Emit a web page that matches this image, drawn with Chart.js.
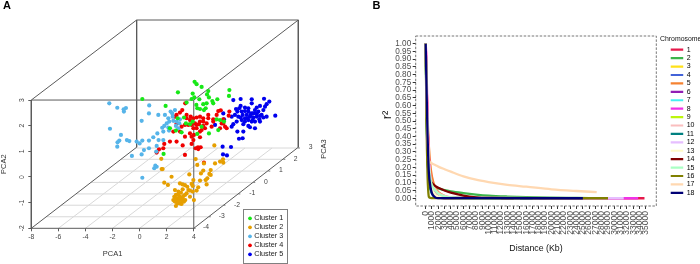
<!DOCTYPE html>
<html><head><meta charset="utf-8">
<style>
html,body{margin:0;padding:0;background:#fff;width:700px;height:264px;overflow:hidden}
canvas{position:absolute;top:0}
#a{left:0}#b{left:350px}
.tag{position:absolute;top:-1.5px;font:bold 11px "Liberation Sans",Arial,sans-serif;color:#000}
</style>
<script src="https://cdn.jsdelivr.net/npm/chart.js@4"></script>
</head><body>
<canvas id="a" width="350" height="264"></canvas>
<canvas id="b" width="350" height="264"></canvas>
<div class="tag" style="left:3px">A</div>
<div class="tag" style="left:372.5px">B</div>
<script>
// ---------- Panel A values (projected PCA1 / PCA2 reading) ----------
const clusterNames = ['Cluster 1','Cluster 2','Cluster 3','Cluster 4','Cluster 5'];
const clusterColors = ['#17e817','#e69f00','#56b4e9','#f00000','#0000ee'];
const cluster1 = [[0.2,3.04],[4.06,3.71],[4.21,3.62],[4.58,3.51],[2.83,3.30],[5.07,3.35],[3.92,3.25],[6.63,3.39],[4.98,3.22],[6.60,3.16],[4.04,3.10],[5.12,3.10],[5.74,3.03],[3.84,3.04],[5.37,2.96],[4.41,3.03],[3.47,2.90],[4.19,2.81],[4.70,2.84],[4.95,2.87],[5.44,2.87],[1.92,2.77],[4.46,2.65],[4.26,2.68],[4.75,2.61],[4.88,2.68],[2.81,2.29],[3.28,2.32],[5.94,2.22],[5.69,2.25],[6.23,2.16],[3.72,2.06],[2.24,1.90],[2.68,1.81],[3.10,1.74],[4.26,1.68],[5.12,1.70],[4.58,1.96],[3.42,2.09],[1.77,0.90],[3.92,2.16],[5.81,1.83]];
const cluster2 = [[5.52,1.23],[4.14,0.70],[6.16,0.69],[5.94,0.60],[5.57,0.53],[6.18,0.56],[4.75,0.53],[4.26,0.47],[4.70,0.25],[5.25,0.27],[4.53,0.14],[5.15,0.12],[1.63,0.31],[1.70,0.31],[1.60,0.71],[5.25,0.08],[2.36,0.01],[3.67,0.10],[5.00,-0.05],[4.88,-0.12],[3.97,-0.12],[4.46,-0.14],[1.82,-0.22],[2.09,-0.31],[2.98,-0.25],[3.18,-0.29],[3.35,-0.32],[3.52,-0.38],[3.84,-0.27],[3.92,-0.35],[4.33,-0.40],[4.95,-0.29],[4.21,-0.53],[2.61,-0.51],[2.86,-0.57],[2.68,-0.70],[3.18,-0.48],[3.72,-0.53],[3.92,-0.57],[3.47,-0.64],[3.72,-0.77],[4.01,-0.90],[2.56,-0.77],[2.73,-0.83],[2.98,-0.77],[3.23,-0.74],[3.37,-0.90],[2.61,-0.96],[2.86,-0.90],[3.10,-0.90],[3.28,-0.96],[2.78,-1.03],[2.98,-1.03],[2.68,-1.13],[3.10,-1.05],[3.35,-0.70],[3.60,-0.51],[2.86,-0.70],[3.05,-0.61],[2.49,-0.90],[2.68,-0.90],[2.93,-0.84],[3.18,-0.84],[2.64,-0.84],[2.88,-0.95]];
const cluster3 = [[-2.24,2.87],[-1.65,2.70],[-1.16,2.55],[-1.01,2.69],[-1.18,2.64],[0.71,2.79],[0.69,2.48],[0.15,2.19],[-2.19,1.88],[-1.38,1.64],[-0.94,1.44],[-0.76,1.40],[-1.50,1.42],[-1.63,1.35],[-1.65,1.18],[0.20,1.42],[0.69,1.42],[-0.22,1.38],[0,1.31],[1.01,1.55],[1.31,1.70],[1.75,1.77],[1.67,1.92],[2.12,1.93],[1.38,2.42],[1.87,2.42],[2.29,2.55],[2.61,2.61],[2.41,2.48],[2.12,2.29],[2.19,2.16],[2.49,2.19],[2.73,2.16],[2.93,2.09],[2.68,1.99],[2.86,1.90],[2.00,2.09],[1.82,1.99],[1.26,1.21],[0.69,1.12],[0.32,1.05],[0.15,0.88],[-0.57,0.82],[1.23,0.99],[1.75,1.44],[1.40,1.44],[1.16,0.44],[1.26,0.40],[1.08,0.34],[0.20,-0.03],[2.17,1.81],[2.44,2.35],[2.98,2.25]];
const cluster4 = [[3.15,2.61],[2.98,2.51],[3.37,2.87],[3.47,2.42],[3.77,2.35],[4.21,2.32],[4.46,2.35],[4.70,2.29],[5.07,2.42],[5.44,2.25],[5.81,2.57],[5.99,2.60],[6.63,2.55],[6.58,2.39],[6.18,2.25],[6.06,2.09],[6.31,1.96],[6.43,1.90],[5.44,2.16],[5.32,1.96],[4.70,2.16],[4.46,2.16],[4.09,2.09],[3.84,2.03],[3.60,2.03],[3.35,2.03],[3.10,1.96],[2.73,2.09],[2.61,2.35],[2.98,1.77],[2.49,1.77],[3.35,1.57],[3.84,1.57],[4.01,1.64],[4.46,1.77],[4.21,1.90],[4.58,1.83],[4.83,1.90],[4.46,1.55],[3.97,1.44],[3.84,1.29],[2.24,1.38],[2.73,1.38],[3.18,1.23],[1.82,1.29],[1.43,1.08],[1.26,0.95],[3.35,0.86],[4.31,1.16],[4.51,1.16],[4.33,1.09],[4.14,1.12],[4.75,0.56],[1.75,1.12],[2.73,2.42],[3.72,1.70],[3.97,1.90],[4.21,2.03],[4.38,2.06],[3.72,2.22],[3.97,2.29],[3.47,2.29],[4.70,1.99],[4.95,2.09],[5.94,1.90],[5.69,2.42],[6.18,2.09],[5.07,2.29]];
const cluster5 = [[6.92,3.00],[7.46,3.04],[8.28,3.03],[9.19,3.05],[9.58,2.94],[9.38,2.84],[9.26,2.74],[8.28,2.87],[7.46,2.77],[7.12,2.65],[7.36,2.68],[7.78,2.71],[8.03,2.68],[8.65,2.71],[8.89,2.77],[9.14,2.61],[9.01,2.42],[9.38,2.35],[10.02,2.39],[6.18,2.48],[6.23,2.25],[6.80,2.35],[7.22,2.55],[7.54,2.55],[7.78,2.57],[8.03,2.55],[8.28,2.48],[8.52,2.61],[8.77,2.55],[7.61,2.42],[7.91,2.42],[8.15,2.35],[8.40,2.32],[8.65,2.35],[8.89,2.38],[7.29,2.35],[7.04,2.42],[7.17,2.16],[6.92,2.06],[6.80,1.96],[7.54,2.22],[7.78,2.16],[8.03,2.22],[8.28,2.16],[8.52,2.16],[7.66,2.06],[8.03,1.99],[8.52,1.90],[8.15,1.94],[8.89,2.16],[7.61,1.51],[7.34,1.49],[7.66,1.77],[7.22,1.77],[5.57,2.03],[6.13,1.18],[6.75,1.17],[6.16,0.88],[6.45,0.84],[8.20,2.42],[8.40,2.48],[7.96,2.29],[7.78,2.29],[8.65,2.48],[8.84,2.25],[9.14,2.32],[7.46,2.32],[8.35,2.22]];
const pca1Ticks = [-8,-6,-4,-2,0,2,4];
const pca2Ticks = [-2,-1,0,1,2,3];
const boxEdges = [[-8,-2,4,-2],[4,-2,4,3],[4,3,-8,3],[-8,3,-8,-2],[-8,3,-0.22,6.12],[4,3,11.72,6.12],[-8,-2,-0.22,1.16],[4,-2,11.72,1.16],[-0.22,6.12,11.72,6.12],[11.72,6.12,11.72,1.16],[-0.22,6.12,-0.22,1.16]];
const floorEdges = [[-6.88,-1.55,5.12,-1.55],[-5.80,-1.10,6.20,-1.10],[-4.70,-0.66,7.30,-0.66],[-3.60,-0.21,8.40,-0.21],[-2.49,0.23,9.51,0.23],[-1.38,0.69,10.62,0.69],[-0.30,1.13,11.70,1.13],[-6,-2,1.78,1.13],[-4,-2,3.78,1.13],[-2,-2,5.78,1.13],[0,-2,7.78,1.13],[2,-2,9.78,1.13]];
const pca3Ticks = ['-4','-3','-2','-1','0','1','2','3'];
const pca3TickX = [4.90,6.06,7.19,8.32,9.33,10.44,11.53,12.63];
const pca3TickY = [-1.96,-1.53,-1.08,-0.64,-0.19,0.26,0.70,1.16];
const pca3MarkX = [4,5.12,6.20,7.30,8.40,9.51,10.62,11.70];
const pca3MarkY = [-2,-1.55,-1.10,-0.66,-0.21,0.23,0.69,1.13];

// ---------- Panel B values ----------
const chromosomes = ['1','2','3','4','5','6','7','8','9','10','11','12','13','14','15','16','17','18'];
const chromColors = ['#e6194b','#3cb44b','#ffe119','#4363d8','#f58231','#911eb4','#46f0f0','#f032e6','#bcf60c','#fabebe','#008080','#e6beff','#fffac8','#800000','#aaffc3','#808000','#ffd8b1','#000075'];
const distKb = [0,100,200,300,400,500,750,1000,1500,2000,3000,4000,6000,8000,10000,13000,16000,20000,24000,27000];
const endKb = [34800,26000,22000,20000,16000,19000,18000,33800,18000,20000,17000,31500,15000,14000,12000,29000,27200,25000];
const r2c1 = [1,.85,.65,.48,.35,.26,.14,.08,.03,.012,.003,.001,0];
const r2c2 = [1,.7,.45,.28,.18,.13,.095,.085,.072,.064,.052,.044,.033,.024,.017,.011,.007,.004,.002,.001];
const r2c3 = [1,.72,.5,.33,.23,.17,.09,.05,.02,.008,.002,0];
const r2c4 = [1,.74,.52,.36,.25,.18,.09,.05,.018,.007,.001,0];
const r2c5 = [1,.82,.66,.52,.42,.34,.21,.14,.07,.04,.015,.006,.002,.001,0];
const r2c6 = [1,.7,.48,.32,.21,.15,.07,.04,.012,.004,.001,0];
const r2c7 = [1,.68,.46,.3,.2,.14,.065,.035,.01,.003,0];
const r2c8 = [1,.92,.72,.5,.38,.28,.13,.07,.02,.005,.001,0];
const r2c9 = [1,.7,.45,.3,.2,.14,.075,.045,.016,.006,.001,0];
const r2c10 = [1,.78,.6,.45,.33,.25,.14,.1,.06,.035,.015,.006,.002,0];
const r2c11 = [1,.66,.42,.27,.18,.12,.06,.03,.009,.002,0];
const r2c12 = [1,.8,.6,.44,.32,.24,.11,.06,.02,.007,.002,0];
const r2c13 = [1,.71,.49,.34,.24,.17,.09,.055,.024,.011,.003,.001,0];
const r2c14 = [1,.75,.5,.3,.18,.125,.11,.098,.08,.068,.05,.036,.017,.006,.002,.001];
const r2c15 = [1,.76,.55,.4,.29,.21,.12,.085,.05,.03,.013,.005,.001,0];
const r2c16 = [1,.6,.32,.14,.05,.01,.002,.001,0];
const r2c17 = [1,.75,.55,.4,.3,.245,.232,.225,.215,.205,.188,.172,.142,.12,.105,.087,.075,.058,.047,.04];
const r2c18 = [1,.78,.58,.4,.27,.17,.075,.032,.006,.001,0];
const r2Series = [r2c1,r2c2,r2c3,r2c4,r2c5,r2c6,r2c7,r2c8,r2c9,r2c10,r2c11,r2c12,r2c13,r2c14,r2c15,r2c16,r2c17,r2c18];
const r2Ticks = ['0.00','0.05','0.10','0.15','0.20','0.25','0.30','0.35','0.40','0.45','0.50','0.55','0.60','0.65','0.70','0.75','0.80','0.85','0.90','0.95','1.00'];
const distTicks = ['0','1000','2000','3000','4000','5000','6000','7000','8000','9000','10000','11000','12000','13000','14000','15000','16000','17000','18000','19000','20000','21000','22000','23000','24000','25000','26000','27000','28000','29000','30000','31000','32000','33000','34000','35000'];

const FONT = '"Liberation Sans", Arial, sans-serif';
const W = 350, H = 264;
function segs(list){const o=[];list.forEach(s=>{o.push({x:s[0],y:s[1]},{x:s[2],y:s[3]},{x:s[2],y:null});});return o;}
function pinLegend(left,top){return {id:'pin',afterLayout(c){const l=c.legend;const w=l.width,h=l.height;l.left=left;l.top=top;l.right=left+w;l.bottom=top+h;}};}

// ---------- Panel A ----------
const clusterData = [cluster1,cluster2,cluster3,cluster4,cluster5];
const pointSets = clusterData.map((pts,i)=>({label:clusterNames[i],data:pts.map(p=>({x:p[0],y:p[1]})),backgroundColor:clusterColors[i],borderColor:clusterColors[i],pointRadius:2.1,pointBorderWidth:0,pointStyle:'circle',order:i}));
const frameSet = {label:'box',data:segs(boxEdges),showLine:true,pointRadius:0,borderColor:'#5a5a5a',borderWidth:1,clip:false,order:20};
const markSet = {label:'marks',data:segs(pca3MarkX.map((x,i)=>[x,pca3MarkY[i],x+0.14,pca3MarkY[i]])),showLine:true,pointRadius:0,borderColor:'#5a5a5a',borderWidth:0.8,clip:false,order:21};
const floorSet = {label:'floor',data:segs(floorEdges),showLine:true,pointRadius:0,borderColor:'#d8d8d8',borderWidth:1,clip:false,order:22};
const aTicksFont = {family:FONT,size:6.8};
new Chart(document.getElementById('a'),{
 type:'scatter',
 data:{datasets:[...pointSets,frameSet,markSet,floorSet]},
 options:{responsive:false,animation:false,
  layout:{padding:{top:20,right:W-298.3,left:0,bottom:0}},
  plugins:{tooltip:{enabled:false},
   legend:{position:'chartArea',align:'start',labels:{filter:i=>i.datasetIndex<5,usePointStyle:true,boxWidth:1,boxHeight:2.6,padding:1.7,color:'#222',font:{family:FONT,size:7.3,lineHeight:1}}}},
  scales:{
   x:{type:'linear',min:-8,max:11.72,afterBuildTicks:s=>{s.ticks=pca1Ticks.map(v=>({value:v}));},afterFit:s=>{s.height=H-228.3;},
      grid:{drawOnChartArea:false,tickLength:3,color:'#5a5a5a'},border:{display:false},
      ticks:{autoSkip:false,maxRotation:0,minRotation:0,padding:2,color:'#444',font:aTicksFont}},
   y:{type:'linear',min:-2,max:6.12,afterBuildTicks:s=>{s.ticks=pca2Ticks.map(v=>({value:v}));},afterFit:s=>{s.width=31.3;},
      grid:{drawOnChartArea:false,tickLength:3,color:'#5a5a5a'},border:{display:false},
      ticks:{autoSkip:false,minRotation:90,maxRotation:90,crossAlign:'center',padding:3,color:'#444',font:aTicksFont}}
  }},
 plugins:[pinLegend(247.8,213),{id:'notes',afterDraw(c){
   const g=c.ctx,sx=c.scales.x,sy=c.scales.y;
   g.save();g.textAlign='center';g.textBaseline='middle';g.fillStyle='#444';g.font='6.8px '+FONT;
   pca3Ticks.forEach((t,i)=>g.fillText(t,sx.getPixelForValue(pca3TickX[i]),sy.getPixelForValue(pca3TickY[i])));
   g.font='7.5px '+FONT;g.fillStyle='#333';
   g.fillText('PCA1',sx.getPixelForValue(-2),sy.getPixelForValue(-3.01));
   g.save();g.translate(sx.getPixelForValue(-10.0),sy.getPixelForValue(0.5));g.rotate(-Math.PI/2);g.fillText('PCA2',0,0);g.restore();
   g.save();g.translate(sx.getPixelForValue(13.62),sy.getPixelForValue(1.09));g.rotate(-Math.PI/2);g.fillText('PCA3',0,0);g.restore();
   g.strokeStyle='#808080';g.lineWidth=1;g.strokeRect(243.5,209.5,44,54);
   g.restore();
 }}]
});

// ---------- Panel B ----------
const lineSets = r2Series.map((vals,i)=>({label:chromosomes[i],
  data:vals.map((v,k)=>({x:k===vals.length-1?endKb[i]:distKb[k],y:v})),
  borderColor:chromColors[i],backgroundColor:chromColors[i],borderWidth:2.3,pointRadius:0,showLine:true,
  cubicInterpolationMode:'monotone',order:18-i}));
new Chart(document.getElementById('b'),{
 type:'scatter',
 data:{datasets:lineSets},
 options:{responsive:false,animation:false,
  layout:{padding:{top:36,right:W-306.3,left:0,bottom:10.5}},
  plugins:{tooltip:{enabled:false},
   legend:{position:'chartArea',align:'start',labels:{boxWidth:12.5,boxHeight:2.2,padding:1.42,color:'#222',font:{family:FONT,size:7,lineHeight:1},
     generateLabels:c=>c.data.datasets.map((d,i)=>({text:d.label,fillStyle:d.borderColor,strokeStyle:d.borderColor,lineWidth:0,hidden:false,datasetIndex:i}))}}},
  scales:{
   x:{type:'linear',min:-1590,max:36680,afterBuildTicks:s=>{s.ticks=distTicks.map(v=>({value:+v}));},afterFit:s=>{s.height=H-206-10.5;},
      grid:{drawOnChartArea:false,tickLength:3,color:'#333'},border:{display:false},
      ticks:{autoSkip:false,minRotation:90,maxRotation:90,padding:2,color:'#4d4d4d',font:{family:FONT,size:8.5},callback:v=>String(v)},
      title:{display:true,text:'Distance (Kb)',color:'#111',padding:{top:3,bottom:0},font:{family:FONT,size:8.8}}},
   y:{type:'linear',min:-0.05,max:1.05,afterBuildTicks:s=>{s.ticks=r2Ticks.map(v=>({value:+v}));},afterFit:s=>{s.width=65.7;},
      grid:{drawOnChartArea:false,tickLength:3,color:'#333'},border:{display:false},
      ticks:{autoSkip:false,padding:1.5,color:'#4d4d4d',font:{family:FONT,size:8.2},callback:v=>v.toFixed(2)}}
  }},
 plugins:[pinLegend(319.3,44.8),{id:'notes',afterDraw(c){
   const g=c.ctx,a=c.chartArea;
   g.save();g.strokeStyle='#777';g.lineWidth=1;g.setLineDash([2.5,1.5]);
   g.strokeRect(a.left,a.top,a.right-a.left,a.bottom-a.top);g.setLineDash([]);
   g.fillStyle='#111';g.textBaseline='middle';g.textAlign='left';g.font='6.9px '+FONT;g.fillText('Chromosome',310,39);
   g.font='13px '+FONT;g.textAlign='center';g.translate(37,115);g.rotate(-Math.PI/2);g.fillText('r²',0,0);
   g.restore();
 }}]
});
</script>
</body></html>
